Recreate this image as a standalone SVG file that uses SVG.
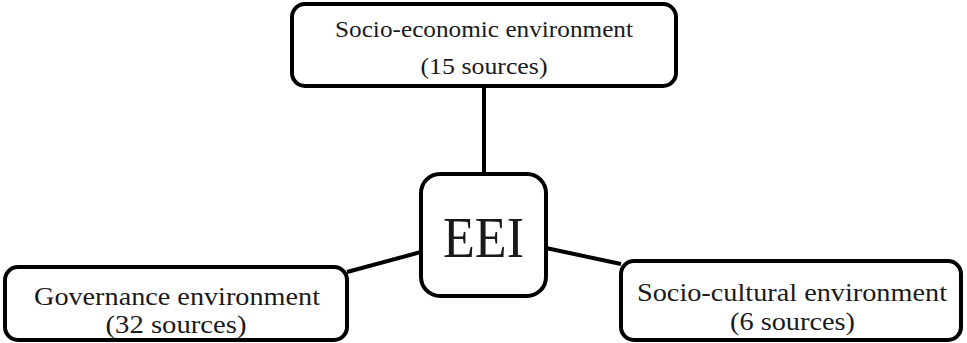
<svg xmlns="http://www.w3.org/2000/svg" width="967" height="343" viewBox="0 0 967 343">
<style>
.box{fill:#fff;stroke:#000;stroke-width:4}
.lbl{font-family:"Liberation Serif","Times New Roman",serif;fill:#1a1a1a;text-anchor:middle}
.t{font-size:23px}
.b{font-size:25px}
.conn{stroke:#000;stroke-width:4;fill:none}
</style>
<rect width="967" height="343" fill="#fff"/>
<g id="connectors">
<line class="conn" x1="484" y1="86" x2="484" y2="174"/>
<line class="conn" x1="347" y1="272" x2="421" y2="252"/>
<line class="conn" x1="546" y1="248" x2="621" y2="264"/>
</g>
<g id="socio-economic">
<rect class="box" x="292" y="4" width="384" height="82" rx="13"/>
<text class="lbl t" x="484" y="37" textLength="298" lengthAdjust="spacingAndGlyphs">Socio-economic environment</text>
<text class="lbl t" x="484" y="74" textLength="127" lengthAdjust="spacingAndGlyphs">(15 sources)</text>
</g>
<g id="eei">
<rect class="box" x="421" y="174" width="125" height="122" rx="19"/>
<text class="lbl" x="483.5" y="257" font-size="58" textLength="81" lengthAdjust="spacingAndGlyphs">EEI</text>
</g>
<g id="governance">
<rect class="box" x="5" y="267" width="342" height="73" rx="13"/>
<text class="lbl b" x="177" y="305" textLength="286" lengthAdjust="spacingAndGlyphs">Governance environment</text>
<text class="lbl b" x="176" y="333" textLength="141" lengthAdjust="spacingAndGlyphs">(32 sources)</text>
</g>
<g id="socio-cultural">
<rect class="box" x="621" y="261" width="340" height="79" rx="13"/>
<text class="lbl b" x="792" y="301" textLength="310" lengthAdjust="spacingAndGlyphs">Socio-cultural environment</text>
<text class="lbl b" x="792.5" y="330" textLength="125" lengthAdjust="spacingAndGlyphs">(6 sources)</text>
</g>
</svg>
